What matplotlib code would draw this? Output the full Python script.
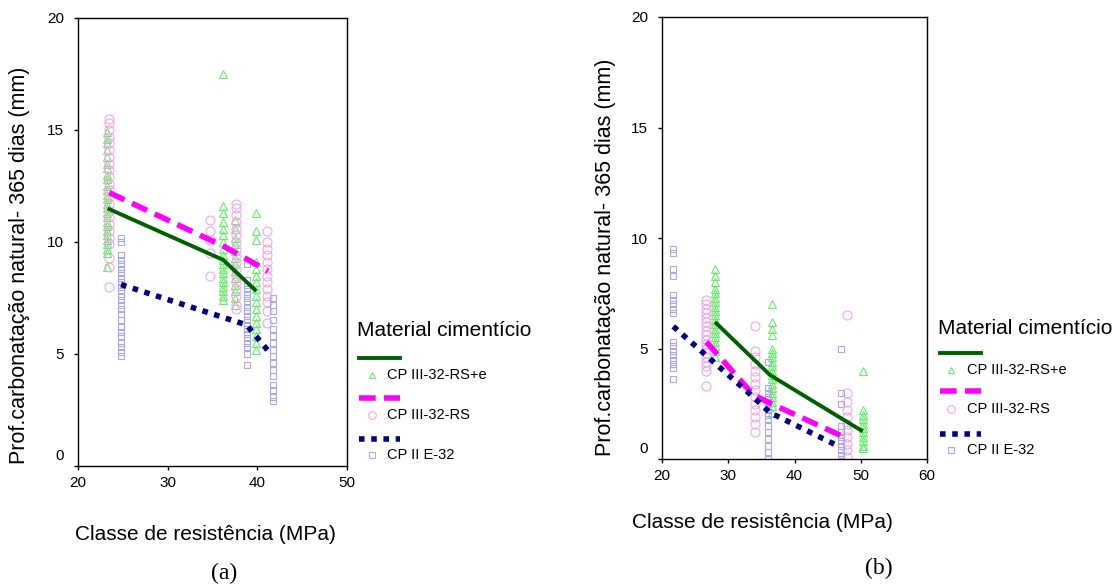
import matplotlib
matplotlib.use("Agg")
import matplotlib.pyplot as plt
from matplotlib.lines import Line2D

plt.rcParams['font.family'] = ['Liberation Sans', 'DejaVu Sans']

W, H = 1113, 586

# ---- dados (a) ----
a_tri_x = [23.2, 36.2, 37.5, 39.9]
a_tri_y = [
    [8.9, 9.5, 9.7, 9.9, 10.1, 10.3, 10.5, 10.7, 10.9, 11.1, 11.3, 11.5, 11.7, 11.9,
     12.1, 12.3, 12.5, 12.8, 13.0, 13.3, 13.5, 13.8, 14.1, 14.4, 14.6, 14.9],
    [17.5, 11.6, 11.3, 10.9, 10.6, 10.3, 10.0, 9.7, 9.4, 9.2, 9.0, 8.8, 8.6, 8.4,
     8.2, 8.0, 7.8, 7.6, 7.4],
    [11.0, 10.6, 10.2, 9.9, 9.6, 9.3, 9.0, 8.7, 8.4, 8.1, 7.8, 7.5, 7.2],
    [11.3, 10.5, 10.1, 9.1, 8.8, 8.5, 8.2, 7.9, 7.6, 7.3, 7.0, 6.7, 6.4, 6.1, 5.8,
     5.5, 5.2],
]
a_circ_x = [23.5, 34.7, 37.6, 41.1]
a_circ_y = [
    [15.5, 15.3, 15.0, 14.7, 14.4, 14.1, 13.8, 13.5, 13.2, 12.9, 12.6, 12.3, 12.0,
     11.7, 11.4, 11.1, 10.8, 10.5, 10.2, 9.9, 9.3, 8.9, 8.0],
    [11.0, 10.5, 10.1, 9.5, 8.5],
    [11.7, 11.5, 11.2, 10.9, 10.6, 10.3, 10.0, 9.7, 9.4, 9.1, 8.8, 8.5, 8.2, 7.9,
     7.6, 7.2, 7.0],
    [10.5, 10.0, 9.7, 9.4, 9.1, 8.8, 8.5, 8.2, 7.9, 7.6, 7.3, 6.9, 6.4],
]
a_sq_x = [24.8, 38.8, 41.8]
a_sq_y = [
    [10.2, 10.0, 9.4, 9.2, 9.0, 8.8, 8.6, 8.4, 8.2, 8.0, 7.8, 7.6, 7.4, 7.2, 7.0,
     6.8, 6.5, 6.2, 6.0, 5.8, 5.5, 5.3, 5.1, 4.9],
    [9.0, 8.3, 8.1, 7.9, 7.7, 7.5, 7.3, 7.1, 6.9, 6.7, 6.5, 6.3, 6.1, 5.9, 5.7, 5.5,
     5.3, 5.0, 4.5],
    [7.5, 7.2, 6.9, 6.5, 6.1, 5.8, 5.5, 5.2, 4.9, 4.6, 4.3, 4.0, 3.6, 3.4, 3.1, 2.9],
]
a_green_x, a_green_y = [23.3, 36.2, 39.9], [11.5, 9.2, 7.8]
a_mag_x, a_mag_y = [23.5, 36.3, 41.2], [12.2, 9.8, 8.7]
a_navy_x, a_navy_y = [24.8, 38.8, 41.5], [8.1, 6.3, 5.0]

# ---- dados (b) ----
b_tri_x = [28.0, 36.6, 50.4]
b_tri_y = [
    [8.6, 8.3, 8.0, 7.7, 7.5, 7.3, 7.1, 6.9, 6.7, 6.5, 6.3, 6.1, 5.9, 5.7, 5.5, 5.3,
     5.1, 4.9, 4.6],
    [7.0, 6.2, 5.9, 5.6, 5.0, 4.8, 4.6, 4.4, 4.2, 4.0, 3.8, 3.6, 3.4, 3.2, 3.0, 2.8,
     2.6, 2.4, 2.1],
    [4.0, 2.2, 2.0, 1.8, 1.6, 1.4, 1.2, 1.0, 0.8, 0.6, 0.5],
]
b_circ_x = [26.7, 34.0, 47.9]
b_circ_y = [
    [7.2, 7.0, 6.8, 6.6, 6.4, 6.2, 6.0, 5.8, 5.6, 5.4, 5.2, 5.0, 4.8, 4.6, 4.4, 4.2,
     4.0, 3.3],
    [6.0, 4.9, 4.6, 4.3, 4.0, 3.7, 3.4, 3.1, 2.8, 2.5, 2.2, 1.9, 1.6, 1.2],
    [6.5, 3.0, 2.6, 2.2, 1.9, 1.6, 1.3, 1.0, 0.7, 0.4, 0.1],
]
b_sq_x = [21.6, 36.0, 47.0]
b_sq_y = [
    [9.5, 9.3, 8.6, 8.3, 7.4, 7.2, 7.0, 6.8, 6.6, 5.3, 5.1, 4.9, 4.7, 4.5, 4.3, 4.1,
     3.6],
    [4.4, 3.2, 3.0, 2.8, 2.6, 2.4, 2.2, 2.0, 1.8, 1.5, 1.2, 0.9, 0.6, 0.3, 0.0],
    [5.0, 3.0, 2.5, 1.5, 1.2, 1.0, 0.8, 0.6, 0.4, 0.2, 0.0],
]
b_green_x, b_green_y = [28.0, 36.3, 50.3], [6.2, 3.8, 1.25]
b_mag_x, b_mag_y = [26.7, 33.8, 36.5, 47.8], [5.3, 2.9, 2.5, 0.95]
b_navy_x, b_navy_y = [21.7, 27.0, 33.8, 36.3, 46.5], [6.0, 4.6, 2.8, 2.1, 0.6]

labels = ['CP III-32-RS+e', 'CP III-32-RS', 'CP II E-32']
yticks = [0, 5, 10, 15, 20]

c_tri = '#66ee66'
c_circ = '#f4a4ea'
c_sq = '#a8a8f0'
c_green = '#006000'
c_mag = '#ff00ff'
c_navy = '#000080'

dash_mag = (3, 1.5)
dash_navy = (1, 1.2)


def fx(px):
    return px / W


def fy(py):
    return 1 - py / H


def colunas(ax, xs, ys, marker, color, ms):
    for x, col in zip(xs, ys):
        ax.plot([x] * len(col), col, linestyle='none', marker=marker, ms=ms,
                mfc='none', mec=color, mew=0.8)


def painel(ax, d, xticks):
    colunas(ax, d['tri_x'], d['tri_y'], '^', c_tri, 6)
    colunas(ax, d['circ_x'], d['circ_y'], 'o', c_circ, 6.5)
    colunas(ax, d['sq_x'], d['sq_y'], 's', c_sq, 4.5)
    ax.plot(d['green_x'], d['green_y'], color=c_green, lw=2.8, solid_capstyle='butt')
    ax.plot(d['mag_x'], d['mag_y'], color=c_mag, lw=4, dashes=dash_mag)
    ax.plot(d['navy_x'], d['navy_y'], color=c_navy, lw=4, dashes=dash_navy)
    ax.set_xlim(xticks[0], xticks[-1])
    ax.set_ylim(0, 20)
    ax.set_xticks(xticks)
    ax.set_yticks(yticks)
    ax.set_yticklabels([''] + [str(t) for t in yticks[1:]])
    # o "0" fica um pouco acima do eixo, como no original
    ax.annotate('0', xy=(0, 0), xycoords='axes fraction', xytext=(-10, 7),
                textcoords='offset points', ha='right', va='center', fontsize=11)
    ax.tick_params(direction='out', length=3, width=1, labelsize=11)
    ax.tick_params(axis='y', pad=7)
    ax.tick_params(axis='x', pad=4)
    for s in ax.spines.values():
        s.set_linewidth(1)
        s.set_color('black')


def legenda(fig, x0, ytit, ylines, ymarks, xm, xt, tsize):
    fig.text(fx(x0), fy(ytit), 'Material cimentício', fontsize=tsize, va='center')
    estilos = [dict(color=c_green, lw=2.8), dict(color=c_mag, lw=4, dashes=dash_mag),
               dict(color=c_navy, lw=4, dashes=dash_navy)]
    mk = [('^', c_tri, 5), ('o', c_circ, 5.5), ('s', c_sq, 4)]
    for yl, ym, st, (m, c, ms), lab in zip(ylines, ymarks, estilos, mk, labels):
        fig.add_artist(Line2D([fx(x0 + 2), fx(x0 + 43)], [fy(yl), fy(yl)],
                              transform=fig.transFigure, **st))
        fig.add_artist(Line2D([fx(xm)], [fy(ym)], transform=fig.transFigure,
                              marker=m, ms=ms, mfc='none', mec=c, mew=0.8, linestyle='none'))
        fig.text(fx(xt), fy(ym), lab, fontsize=10.5, va='center')


fig = plt.figure(figsize=(W / 100, H / 100), dpi=100)

ax1 = fig.add_axes([fx(78), fy(466), fx(347) - fx(78), fy(18) - fy(466)])
painel(ax1, dict(tri_x=a_tri_x, tri_y=a_tri_y, circ_x=a_circ_x, circ_y=a_circ_y,
                 sq_x=a_sq_x, sq_y=a_sq_y, green_x=a_green_x, green_y=a_green_y,
                 mag_x=a_mag_x, mag_y=a_mag_y, navy_x=a_navy_x, navy_y=a_navy_y),
       [20, 30, 40, 50])

ax2 = fig.add_axes([fx(662), fy(459), fx(927) - fx(662), fy(17) - fy(459)])
painel(ax2, dict(tri_x=b_tri_x, tri_y=b_tri_y, circ_x=b_circ_x, circ_y=b_circ_y,
                 sq_x=b_sq_x, sq_y=b_sq_y, green_x=b_green_x, green_y=b_green_y,
                 mag_x=b_mag_x, mag_y=b_mag_y, navy_x=b_navy_x, navy_y=b_navy_y),
       [20, 30, 40, 50, 60])

ylab = 'Prof.carbonatação natural- 365 dias (mm)'
xlab = 'Classe de resistência (MPa)'
fig.text(fx(20), fy(265), ylab, rotation=90, fontsize=15.5, ha='center', va='center')
fig.text(fx(605), fy(257), ylab, rotation=90, fontsize=15.5, ha='center', va='center')
fig.text(fx(205), fy(535), xlab, fontsize=15, ha='center', va='center')
fig.text(fx(762), fy(523), xlab, fontsize=15, ha='center', va='center')

fig.text(fx(224), fy(573), '(a)', fontsize=17, ha='center', va='center',
         family=['Liberation Serif', 'DejaVu Serif'])
fig.text(fx(879), fy(568), '(b)', fontsize=17, ha='center', va='center',
         family=['Liberation Serif', 'DejaVu Serif'])

legenda(fig, 357, 330, [358, 398, 439], [375, 415, 455], 372, 387, 15)
legenda(fig, 938, 329, [353, 391, 434], [370, 409, 450], 951, 967, 15)

fig.savefig('out.png', dpi=100)
